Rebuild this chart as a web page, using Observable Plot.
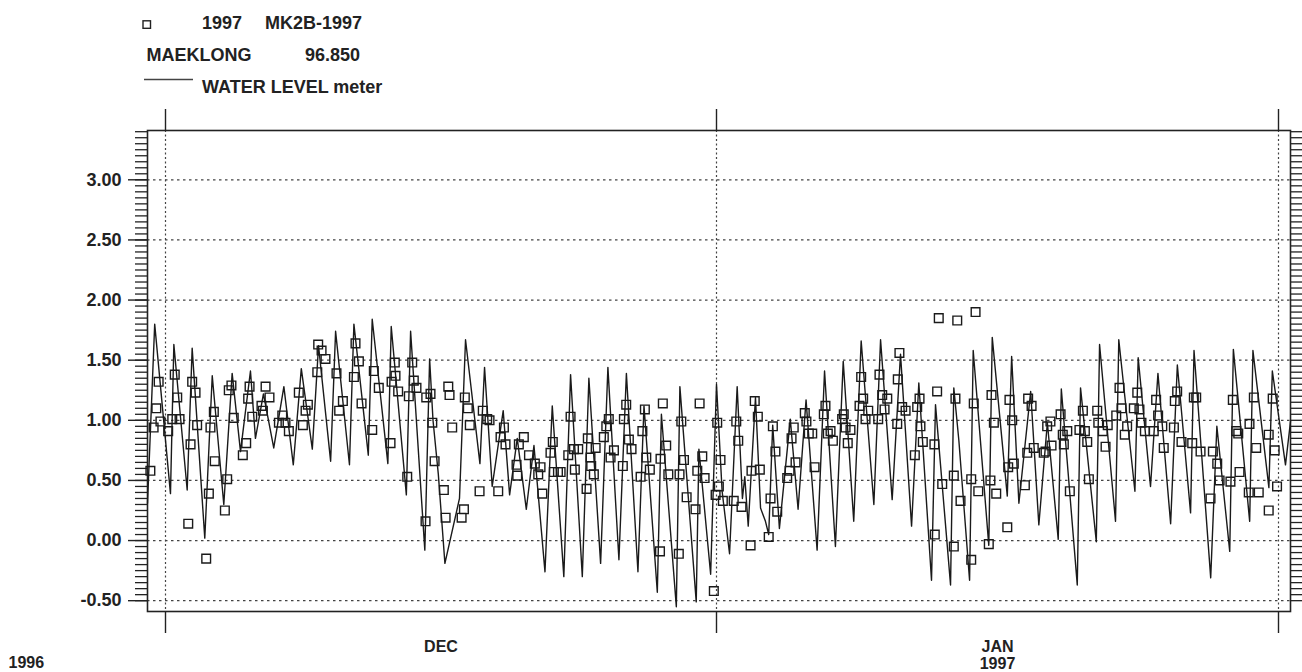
<!DOCTYPE html>
<html><head><meta charset="utf-8">
<script src="https://cdn.jsdelivr.net/npm/d3@7"></script>
<script src="https://cdn.jsdelivr.net/npm/@observablehq/plot@0.6"></script>
<style>
body{margin:0;background:#fff;}
#wrap{position:relative;width:1302px;height:672px;}
#legend{position:absolute;left:0;top:0;}
</style></head><body><div id="wrap"></div>
<script>
// ---- data (days counted from 1996-12-01 00:00) ----
const lineDay = [-1.0,-0.60,0.28,0.47,1.22,1.50,2.21,2.63,3.28,3.75,4.22,4.78,5.06,5.51,6.09,6.66,7.19,7.64,8.26,8.61,9.29,9.57,
10.35,10.60,11.41,11.63,12.51,12.70,13.55,13.79,14.59,14.86,15.05,15.35,15.72,16.54,16.88,17.69,17.95,18.38,19.00,19.36,19.79,20.30,
20.73,21.35,21.76,22.41,22.79,23.45,23.82,24.48,24.89,25.51,25.93,26.58,26.92,27.67,27.90,28.74,28.94,29.86,30.01,30.67,31.0,
31.31,31.72,32.14,32.43,32.56,32.75,33.15,33.43,33.70,33.88,34.10,34.47,35.07,35.50,35.94,36.55,36.96,37.56,37.99,38.57,38.98,39.68,40.05,40.69,41.15,41.76,
42.16,42.86,43.08,43.91,44.09,44.37,44.96,45.16,46.02,46.21,47.04,47.28,47.68,48.33,48.78,49.25,49.85,50.02,50.90,51.08,51.95,52.13,
53.01,53.19,54.08,54.26,54.94,55.35,56.05,56.42,57.15,57.34,58.26,58.6,59.31,59.51,60.41,60.59,61.47,61.66,62.39,62.67];
const lineLevel = [0.31,1.80,0.39,1.63,0.42,1.60,0.02,1.37,0.30,1.39,0.74,1.41,0.85,1.22,0.77,1.28,0.63,1.43,0.76,1.62,0.66,1.74,
0.63,1.80,0.71,1.84,0.64,1.78,0.38,1.74,-0.08,1.51,1.0,0.55,-0.19,0.35,1.67,0.64,1.44,0.45,1.08,0.38,0.85,0.26,
0.79,-0.26,1.12,-0.30,1.38,-0.30,1.35,-0.19,1.44,-0.16,1.39,-0.26,1.12,-0.43,1.05,-0.55,1.28,-0.51,0.76,-0.28,1.30,
0.41,-0.11,1.28,0.35,0.53,0.12,1.19,0.27,0.16,0.05,0.96,0.10,1.01,0.26,1.17,-0.08,1.41,-0.05,1.49,0.16,1.66,0.30,1.67,0.34,1.55,0.12,
1.31,-0.33,1.13,-0.37,1.27,0.83,-0.33,1.58,-0.04,1.69,0.37,1.53,0.31,1.24,0.13,0.98,0.01,1.26,-0.37,1.27,-0.01,1.63,
0.16,1.67,0.41,1.52,0.45,1.39,0.14,1.46,0.23,1.58,-0.31,0.95,-0.09,1.59,0.16,1.58,0.44,1.41,0.63,0.99];

const obsDay = [-0.84,-0.66,-0.51,-0.38,-0.28,0.15,0.38,0.52,0.66,0.79,1.28,1.41,1.50,1.69,1.78,2.29,2.44,2.53,2.72,2.77,
3.34,3.47,3.56,3.71,3.84,4.35,4.54,4.65,4.73,4.88,5.40,5.48,5.63,5.85,6.38,6.57,6.75,6.94,7.50,7.73,7.88,8.01,
8.54,8.59,8.78,9.00,9.62,9.77,9.98,10.60,10.69,10.88,11.03,11.63,11.72,12.00,12.66,12.72,12.90,12.94,13.09,
13.60,13.69,13.88,13.97,14.12,14.63,14.67,14.91,15.01,15.14,15.66,15.76,15.91,15.98,16.13,16.66,16.79,16.84,17.01,17.12,
17.67,17.85,18.10,18.23,18.72,18.85,19.04,19.13,19.75,19.79,19.88,20.16,20.45,20.78,20.97,21.10,21.20,21.66,21.79,21.85,
22.08,22.23,22.66,22.79,22.98,23.03,23.22,23.69,23.76,23.91,23.95,24.10,24.20,24.66,24.80,24.94,25.04,25.23,25.73,25.79,
25.92,26.07,26.22,26.73,26.83,26.97,27.05,27.25,27.82,27.85,27.98,28.17,28.29,28.88,28.92,29.02,29.17,29.32,29.82,29.92,
30.05,30.20,30.33,30.85,30.95,31.04,31.13,31.22,31.35,31.95,32.09,32.20,32.38,32.88,32.93,33.11,33.28,33.39,33.88,33.98,
34.11,34.25,34.35,34.90,35.03,35.14,35.26,35.36,35.87,35.96,36.09,36.28,36.41,36.92,37.01,37.14,37.29,37.42,37.93,38.02,
38.12,38.24,38.39,38.89,38.98,39.09,39.22,39.37,39.92,39.99,40.14,40.27,40.42,40.97,41.00,41.09,41.24,41.43,41.94,42.07,
42.20,42.25,42.38,43.02,43.04,43.17,43.26,43.45,44.09,44.09,44.18,44.28,44.46,45.05,45.05,45.19,45.29,45.44,46.02,46.11,
46.17,46.30,46.43,47.04,47.09,47.16,47.31,47.40,48.01,48.14,48.19,48.38,48.50,49.05,49.15,49.24,49.42,49.48,49.98,50.10,
50.16,50.35,50.49,51.02,51.21,51.32,51.45,51.54,52.00,52.06,52.31,52.46,52.58,53.05,53.23,53.34,53.52,53.65,54.02,54.21,
54.33,54.44,54.63,55.12,55.25,55.36,55.59,55.67,56.23,56.28,56.41,56.65,57.24,57.33,57.46,57.70,58.25,58.38,58.62,58.75,
59.35,59.48,59.67,59.78,59.85,60.36,60.40,60.64,60.77,60.91,61.46,61.46,61.68,61.79,61.92];
const obsLevel = [0.58,0.94,1.10,1.32,0.99,0.91,1.01,1.38,1.19,1.01,0.14,0.80,1.32,1.23,0.96,-0.15,0.39,0.94,1.07,0.66,
0.25,0.51,1.25,1.29,1.02,0.71,0.81,1.18,1.28,1.03,1.12,1.08,1.28,1.19,0.98,1.04,0.98,0.91,1.23,0.96,1.08,1.13,
1.40,1.63,1.58,1.51,1.39,1.08,1.16,1.36,1.64,1.49,1.14,0.92,1.41,1.27,0.81,1.32,1.48,1.37,1.24,
0.53,1.20,1.48,1.33,1.27,0.16,1.19,1.22,0.98,0.66,0.42,0.19,1.28,1.21,0.94,0.19,0.26,1.19,1.10,0.96,
0.41,1.08,1.01,1.00,0.41,0.86,0.94,0.80,0.63,0.54,0.80,0.86,0.71,0.64,0.55,0.61,0.39,0.73,0.82,0.57,
0.57,0.57,0.71,1.03,0.76,0.59,0.76,0.43,0.85,0.69,0.62,0.55,0.77,0.86,0.95,1.01,0.69,0.75,0.62,1.01,
1.13,0.84,0.76,0.53,0.91,1.09,0.69,0.59,-0.09,0.68,1.14,0.79,0.55,-0.11,0.55,0.99,0.67,0.36,0.26,0.58,
1.14,0.70,0.52,-0.42,0.38,0.98,0.45,0.67,0.33,0.33,0.99,0.83,0.28,-0.04,0.58,1.16,1.03,0.59,0.03,0.35,
0.95,0.74,0.24,0.52,0.58,0.85,0.94,0.65,1.06,0.99,0.89,0.89,0.61,1.05,1.12,0.89,0.91,0.83,1.01,1.05,
0.94,0.81,0.92,1.12,1.36,1.18,1.01,1.08,1.01,1.38,1.21,1.09,1.18,0.97,1.34,1.56,1.11,1.08,0.71,1.11,
1.18,0.95,0.82,0.80,0.05,1.24,1.85,0.47,-0.05,0.54,1.18,1.83,0.33,-0.16,0.51,1.14,1.90,0.41,-0.03,0.50,
1.21,0.98,0.39,0.11,0.61,1.17,1.00,0.64,0.46,0.73,1.18,1.12,0.77,0.73,0.74,0.95,0.99,0.79,1.05,0.88,
0.80,0.91,0.41,0.92,1.08,0.91,0.82,0.51,1.08,0.98,0.91,0.78,0.96,1.04,1.27,1.10,0.88,0.95,1.10,1.23,
1.09,0.98,0.91,0.91,1.17,1.04,0.95,0.77,0.94,1.16,1.24,0.82,0.81,1.19,1.19,0.74,0.35,0.74,0.64,0.50,
0.49,1.17,0.91,0.89,0.57,0.40,0.97,1.19,0.77,0.40,0.25,0.88,1.18,0.75,0.45];

const yMajorTicks = [-0.5, 0, 0.5, 1.0, 1.5, 2.0, 2.5, 3.0];
const yMinorTicks = d3.range(-10, 69).map(i => +(i * 0.05).toFixed(2));
const monthStartDays = [0, 31, 62];           // Dec 1, Jan 1, Feb 1
const monthLabelDays = [15.5, 46.5];          // mid-month
const monthLabels = ["DEC", "JAN\n1997"];
const yearLabel = "1996";
const legendTexts = ["1997", "MK2B-1997", "MAEKLONG", "96.850", "WATER LEVEL meter"];

// ---- build ----
const t0 = Date.UTC(1996, 11, 1);
const toDate = d => new Date(t0 + d * 864e5);
const lineRows = lineDay.map((d, i) => ({date: toDate(d), level: lineLevel[i]}));
const obsRows = obsDay.map((d, i) => ({date: toDate(d), level: obsLevel[i]}));
const monthStarts = monthStartDays.map(toDate);
const labelRows = monthLabelDays.map((d, i) => ({date: toDate(d), text: monthLabels[i]}));

const ink = "#222";
const font = "Liberation Sans, Arial, sans-serif";

const chart = Plot.plot({
  width: 1302, height: 672,
  marginTop: 130, marginBottom: 61, marginLeft: 147, marginRight: 12,
  style: {fontFamily: font, fontWeight: "bold", background: "white", color: ink},
  x: {type: "utc", domain: [toDate(-1), toDate(0), toDate(31), toDate(62), toDate(62.67)],
      range: [147, 165, 716, 1278, 1290]},
  y: {domain: [-0.59, 3.41]},
  marks: [
    Plot.ruleY(yMajorTicks, {stroke: "#444", strokeWidth: 1.2, strokeDasharray: "2.5,3.5"}),
    Plot.ruleX(monthStarts, {stroke: "#444", strokeWidth: 1.2, strokeDasharray: "2,2.5"}),
    Plot.axisY({ticks: yMinorTicks, anchor: "left", tickSize: 12, tickFormat: () => "", label: null, stroke: ink, strokeWidth: 1.3}),
    Plot.axisY({ticks: yMajorTicks, anchor: "left", tickSize: 19, tickPadding: 7, tickFormat: d => d.toFixed(2), label: null,
                stroke: ink, strokeWidth: 1.4, fontSize: 18, fontWeight: "bold", fill: ink}),
    Plot.axisY({ticks: yMinorTicks, anchor: "right", tickSize: 12, tickFormat: () => "", label: null, stroke: ink, strokeWidth: 1.3}),
    Plot.axisX({ticks: monthStarts, anchor: "bottom", tickSize: 22, tickFormat: () => "", label: null, stroke: ink, strokeWidth: 1.4}),
    Plot.axisX({ticks: monthStarts, anchor: "top", tickSize: 22, tickFormat: () => "", label: null, stroke: ink, strokeWidth: 1.4}),
    Plot.frame({stroke: ink, strokeWidth: 1.6}),
    Plot.line(lineRows, {x: "date", y: "level", stroke: "#1a1a1a", strokeWidth: 1.4}),
    Plot.dot(obsRows, {x: "date", y: "level", symbol: "square", r: 4.9, stroke: "#1a1a1a", strokeWidth: 1.4, fill: "none"}),
    Plot.text(labelRows, {x: "date", text: "text", frameAnchor: "bottom", lineAnchor: "top", dy: 28.6,
                          lineHeight: 1.06, fontSize: 16, fontWeight: "bold", fill: ink}),
    Plot.text([yearLabel], {text: d => d, frameAnchor: "bottom-left", textAnchor: "start", lineAnchor: "top",
                            dx: -139, dy: 45.6, fontSize: 16, fontWeight: "bold", fill: ink})
  ]
});
const wrap = document.getElementById("wrap");
wrap.appendChild(chart);

// legend overlay
const ns = "http://www.w3.org/2000/svg";
const lg = document.createElementNS(ns, "svg");
lg.setAttribute("id", "legend");
lg.setAttribute("width", 420); lg.setAttribute("height", 100);
lg.setAttribute("font-family", font); lg.setAttribute("font-weight", "bold");
lg.setAttribute("font-size", 18); lg.setAttribute("fill", ink);
const rect = document.createElementNS(ns, "rect");
Object.entries({x: 143, y: 20.8, width: 7.5, height: 7.5, fill: "none", stroke: ink, "stroke-width": 1.4})
  .forEach(([k, v]) => rect.setAttribute(k, v));
lg.appendChild(rect);
const ln = document.createElementNS(ns, "line");
Object.entries({x1: 144, x2: 193, y1: 79.5, y2: 79.5, stroke: "#444", "stroke-width": 1.4})
  .forEach(([k, v]) => ln.setAttribute(k, v));
lg.appendChild(ln);
const pos = [[202, 28.5], [265, 28.5], [146.5, 60.5], [305, 60.5], [202, 92.7]];
legendTexts.forEach((t, i) => {
  const el = document.createElementNS(ns, "text");
  el.setAttribute("x", pos[i][0]); el.setAttribute("y", pos[i][1]);
  el.textContent = t;
  lg.appendChild(el);
});
wrap.appendChild(lg);
</script>
</body></html>
